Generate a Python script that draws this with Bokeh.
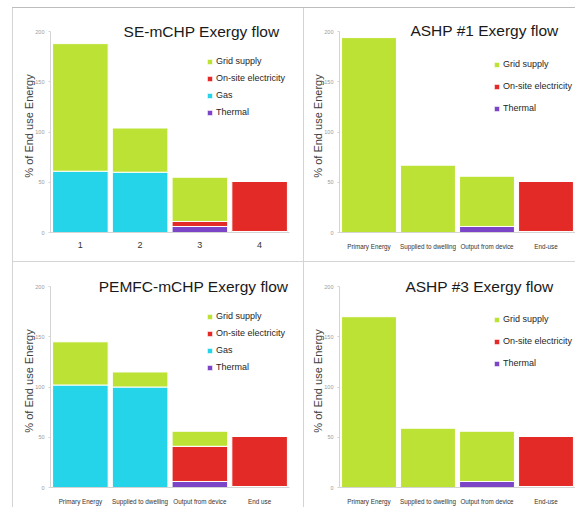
from bokeh.plotting import figure
from bokeh.models import (ColumnDataSource, FactorRange, Range1d, Legend, LegendItem,
                          Label, Spacer, FixedTicker)
from bokeh.layouts import row, column
from bokeh.embed import file_html
from bokeh.resources import INLINE

# ---------------- data ----------------
se_categories = ["1", "2", "3", "4"]
stage_categories_dash = ["Primary Energy", "Supplied to dwelling", "Output from device", "End-use"]
stage_categories_space = ["Primary Energy", "Supplied to dwelling", "Output from device", "End use"]

legend_order = ["Grid supply", "On-site electricity", "Gas", "Thermal"]

se_thermal = [0, 0, 6, 1]
se_onsite = [0, 0, 5, 50]
se_gas = [61, 60, 0, 0]
se_grid = [127, 44, 44, 0]

ashp1_thermal = [0, 0, 6, 1]
ashp1_onsite = [0, 0, 0, 50]
ashp1_grid = [194, 67, 50, 0]

pem_thermal = [0, 0, 6, 1]
pem_onsite = [0, 0, 35, 50]
pem_gas = [102, 100, 0, 0]
pem_grid = [43, 15, 15, 0]

ashp3_thermal = [0, 0, 6, 1]
ashp3_onsite = [0, 0, 0, 50]
ashp3_grid = [170, 59, 50, 0]

y_ticks = [0, 50, 100, 150, 200]

# ---------------- style ----------------
COLORS = {"Thermal": "#7c45c8", "On-site electricity": "#e42a26",
          "Gas": "#25d4e9", "Grid supply": "#bde236"}
SANS = "Liberation Sans"
LINE = "#d4d4d4"
HEADROOM = 12  # extra room above 200 so the in-frame title is not clipped


def make_panel(title, cats, stack, width, height, borders, title_pos,
               legend_pos, legend_spacing, xlabel_size, xlabel_standoff):
    data = {"cat": cats}
    keys = []
    for i, (name, vals) in enumerate(stack):
        k = "s%d" % i
        data[k] = vals
        keys.append(k)
    src = ColumnDataSource(data)
    bl, br, bt, bb = borders
    p = figure(x_range=FactorRange(*cats), y_range=Range1d(0, y_ticks[-1] + HEADROOM),
               width=width, height=height, output_backend="svg",
               toolbar_location=None, min_border_left=bl, min_border_right=br,
               min_border_top=bt, min_border_bottom=bb)
    rs = p.vbar_stack(keys, x="cat", width=0.93, source=src,
                      color=[COLORS[n] for n, _ in stack],
                      line_color="white", line_width=1)
    by_name = {n: r for (n, _), r in zip(stack, rs)}
    items = [LegendItem(label=n, renderers=[by_name[n]]) for n in legend_order if n in by_name]
    leg = Legend(items=items, location=legend_pos, padding=0, margin=0,
                 spacing=legend_spacing, glyph_width=7, glyph_height=7,
                 label_height=12, label_standoff=3,
                 label_text_font=SANS, label_text_font_size="9px",
                 label_text_color="#262626", border_line_color=None,
                 background_fill_alpha=0)
    p.add_layout(leg, "center")

    p.add_layout(Label(x=title_pos[0], y=title_pos[1], x_units="screen", y_units="screen",
                       text=title, text_align="center", text_baseline="alphabetic",
                       text_font=SANS, text_font_size="15.5px", text_color="#1a1a1a"))

    p.xgrid.grid_line_color = None
    p.ygrid.grid_line_color = None
    p.outline_line_color = None
    p.background_fill_color = "white"
    p.border_fill_color = "white"

    ya = p.yaxis[0]
    ya.ticker = FixedTicker(ticks=y_ticks)
    ya.bounds = (y_ticks[0], y_ticks[-1])
    ya.axis_line_color = LINE
    ya.major_tick_line_color = LINE
    ya.major_tick_out = 2
    ya.major_tick_in = 0
    ya.minor_tick_line_color = None
    ya.major_label_text_font = SANS
    ya.major_label_text_font_size = "5.5px"
    ya.major_label_text_color = "#9a9a9a"
    ya.major_label_standoff = 4
    ya.axis_label = "% of End use Energy"
    ya.axis_label_text_font = SANS
    ya.axis_label_text_font_size = "11px"
    ya.axis_label_text_font_style = "normal"
    ya.axis_label_text_color = "#404040"
    ya.axis_label_standoff = -3

    xa = p.xaxis[0]
    xa.axis_line_color = LINE
    xa.major_tick_line_color = None
    xa.major_tick_out = 0
    xa.major_label_text_font = SANS
    xa.major_label_text_font_size = xlabel_size
    xa.major_label_text_color = "#333333"
    xa.major_label_standoff = xlabel_standoff
    return p


p1 = make_panel("SE-mCHP Exergy flow", se_categories,
                [("Thermal", se_thermal), ("On-site electricity", se_onsite),
                 ("Gas", se_gas), ("Grid supply", se_grid)],
                290, 253, (37, 14, 11, 29), (151, 201), (156, 114), 5, "9px", 9)
p2 = make_panel("ASHP #1 Exergy flow", stage_categories_dash,
                [("Thermal", ashp1_thermal), ("On-site electricity", ashp1_onsite),
                 ("Grid supply", ashp1_grid)],
                271, 253, (35, 0, 11, 29), (145, 202), (154, 118), 10, "6.3px", 10)
p3 = make_panel("PEMFC-mCHP Exergy flow", stage_categories_space,
                [("Thermal", pem_thermal), ("On-site electricity", pem_onsite),
                 ("Gas", pem_gas), ("Grid supply", pem_grid)],
                290, 245, (37, 14, 12, 20), (143, 201), (156, 114), 5, "6.3px", 10)
p4 = make_panel("ASHP #3 Exergy flow", stage_categories_dash,
                [("Thermal", ashp3_thermal), ("On-site electricity", ashp3_onsite),
                 ("Grid supply", ashp3_grid)],
                271, 245, (35, 0, 12, 20), (140, 201), (154, 118), 10, "6.3px", 10)


def vline(h):
    return Spacer(width=1, height=h, margin=0, styles={"background-color": LINE})


def hline(w, color=LINE):
    return Spacer(width=w, height=1, margin=0, styles={"background-color": color})


def gap(w, h):
    return Spacer(width=w, height=h, margin=0)


layout = column(
    gap(10, 7),
    row(gap(12, 1), hline(563, "#bdbdbd"), spacing=0),
    row(gap(12, 253), vline(253), p1, vline(253), p2, spacing=0),
    row(gap(12, 1), hline(563), spacing=0),
    row(gap(12, 245), vline(245), p3, vline(245), p4, spacing=0),
    spacing=0,
)

open("out.html", "w").write(file_html(layout, INLINE))
